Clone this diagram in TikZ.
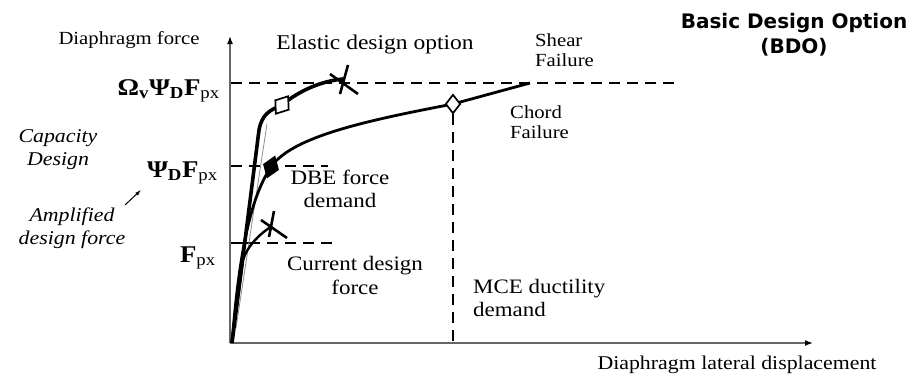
\documentclass[tikz,border=0pt]{standalone}
\usepackage{fontspec}
\setmainfont{Liberation Serif}[FakeStretch=1.12]
\newfontfamily\bdofont{DejaVu Sans}
\usetikzlibrary{arrows.meta,shapes.geometric}
\tikzset{
  lbl/.style={inner sep=0pt, align=center},
  axisline/.style={draw=black!60, line width=1.5pt, -{Latex[length=8pt,width=6pt,black]}},
  dashline/.style={line width=2.6pt, dash pattern=on 11pt off 7pt},
  vdash/.style={line width=2.8pt, dash pattern=on 11pt off 7pt},
  elastic/.style={line width=3.6pt, line join=round},
  chord/.style={line width=2.8pt},
  current/.style={line width=2.4pt},
  xmark/.style={line width=2.6pt},
  hdiam/.style={diamond, draw, fill=white, line width=1.7pt, minimum width=17pt, minimum height=22pt, inner sep=0pt},
  fdiam/.style={diamond, draw, fill=black, line width=1pt, minimum width=16pt, minimum height=23pt, inner sep=0pt},
}
\newcommand{\fsz}[2]{\fontsize{#1}{#2}\selectfont}
\begin{document}
\begin{tikzpicture}[x=1pt,y=-1pt]
\useasboundingbox (0,0) rectangle (920,378);
% axes
\coordinate (O) at (230,343);
\coordinate (ytop) at (230,36);
\coordinate (xend) at (813,343);
\draw[axisline] (O) -- (ytop);
\draw[axisline] (O) -- (xend);

% reference lines
\coordinate (t1) at (231,83);  \coordinate (t2) at (680,83);
\draw[dashline] (t1) -- (t2);
\coordinate (m1) at (231,166); \coordinate (m2) at (328,166);
\draw[dashline] (m1) -- (m2);
\coordinate (b1) at (231,243); \coordinate (b2) at (249,243); \coordinate (b3) at (332,243);
\draw[line width=2.4pt] (b1) -- (b2);
\draw[dashline] (b2) -- (b3);

% thin gray companion line
\coordinate (g1) at (236,328); \coordinate (g2) at (267,124);
\draw[black!45, line width=0.8pt] (g1) -- (g2);

% elastic curve
\coordinate (e0) at (232,343);
\coordinate (e1) at (259,130);
\coordinate (eX) at (343,79);
\coordinate (eD) at (282,105);
\draw[elastic] (e0) -- (e1) .. controls (262,114) and (270,110) .. (eD)
  .. controls (300,90) and (322,81) .. (eX);
\node[hdiam, rotate=-35] (d1) at (eD) {};
\coordinate (xa1) at (348,65); \coordinate (xa2) at (340,94);
\coordinate (xb1) at (330,74); \coordinate (xb2) at (358,94);
\draw[xmark] (xa1) -- (xa2);
\draw[xmark] (xb1) -- (xb2);

% chord curve
\coordinate (c0) at (232,343);
\coordinate (cD) at (271,167);
\coordinate (cM) at (453,104);
\coordinate (cE) at (530,83);
\draw[chord] (c0) .. controls (239,255) and (250,198) .. (cD)
  .. controls (292,136) and (370,120) .. (cM) -- (cE);
\node[fdiam, rotate=-20] (d2) at (cD) {};
\node[hdiam, minimum width=15pt, minimum height=19pt] (d3) at (cM) {};
\coordinate (v2) at (453,343);
\draw[vdash] (d3.south) -- (v2);

% current curve
\coordinate (k0) at (232,343);
\coordinate (k1) at (243,260);
\coordinate (kX) at (272,226);
\draw[current] (k0) -- (k1) .. controls (247,247) and (258,235) .. (kX);
\coordinate (ya1) at (274,211); \coordinate (ya2) at (269,237);
\coordinate (yb1) at (261,220); \coordinate (yb2) at (287,238);
\draw[xmark] (ya1) -- (ya2);
\draw[xmark] (yb1) -- (yb2);

% labels
\node[lbl, font=\fsz{18.5}{21}] (ylab) at (129,40) {Diaphragm force};
\node[lbl, font=\fsz{21}{24}] (elab) at (375,44) {Elastic design option};
\node[lbl, font=\fsz{18.5}{20}, align=left, anchor=west] (shear) at (535,50) {Shear\\Failure};
\node[lbl, font=\fsz{18.5}{20}, align=left, anchor=west] (chordl) at (510,122) {Chord\\Failure};
\node[lbl, font={\bdofont\bfseries\fsz{20}{25}}] (bdo) at (794,35) {Basic Design Option\\(BDO)};
\node[lbl, font=\fsz{20.5}{23}] (dbe) at (340,189) {DBE force\\demand};
\node[lbl, font=\fsz{20.5}{24}] (cur) at (355,275) {Current design\\force};
\node[lbl, font=\fsz{20.5}{23}, align=left, anchor=west] (mce) at (473,298) {MCE ductility\\demand};
\node[lbl, font=\fsz{19.5}{22}] (xlab) at (737,365) {Diaphragm lateral displacement};
\node[lbl, font={\itshape\fsz{19.5}{23}}] (cap) at (58,150) {Capacity\\Design};
\node[lbl, font={\itshape\fsz{19.5}{23}}] (amp) at (72,228) {Amplified\\design force};
\coordinate (a1) at (125,205); \coordinate (a2) at (141,190);
\draw[line width=1pt, -{Latex[length=6pt,width=4pt]}] (a1) -- (a2);

\node[lbl, anchor=base east, font=\fsz{24}{26}] (om) at (220,95)
  {\textbf{Ω}\textsubscript{\textbf{v}}\textbf{Ψ}\textsubscript{\textbf{D}}\textbf{F}\textsubscript{px}};
\node[lbl, anchor=base east, font=\fsz{24}{26}] (psi) at (218,177)
  {\textbf{Ψ}\textsubscript{\textbf{D}}\textbf{F}\textsubscript{px}};
\node[lbl, anchor=base east, font=\fsz{24}{26}] (fpx) at (216,262)
  {\textbf{F}\textsubscript{px}};
\end{tikzpicture}
\end{document}
